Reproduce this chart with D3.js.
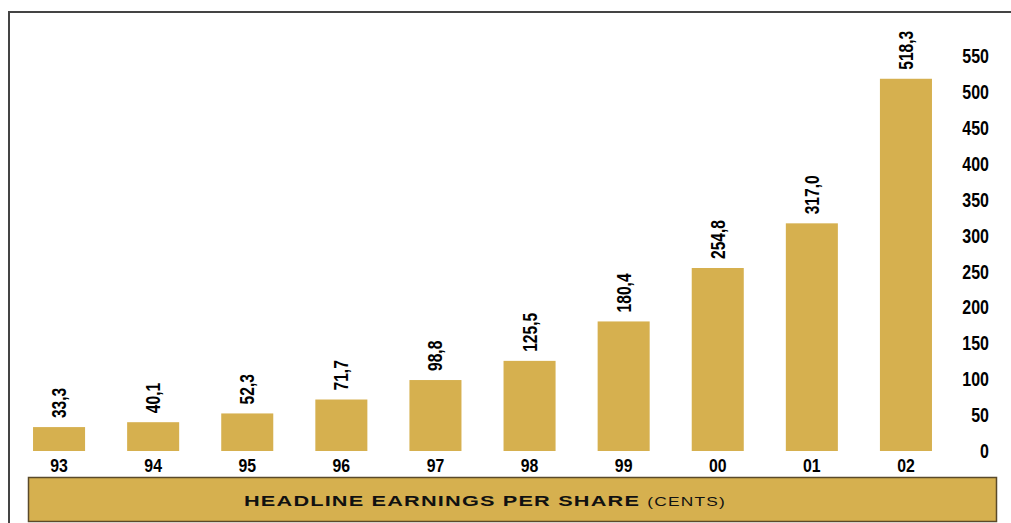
<!DOCTYPE html>
<html>
<head>
<meta charset="utf-8">
<script src="https://cdn.jsdelivr.net/npm/d3@7"></script>
<style>
  body { margin: 0; background: #fff; }
  .narrow { font-family: "Liberation Sans", Arial, sans-serif; font-weight: bold; fill: #000; }
</style>
</head>
<body>
<div class="chart"></div>
<script>
// Chart data
const years = ["93", "94", "95", "96", "97", "98", "99", "00", "01", "02"];
const earnings = [33.3, 40.1, 52.3, 71.7, 98.8, 125.5, 180.4, 254.8, 317.0, 518.3];
const yTicks = [0, 50, 100, 150, 200, 250, 300, 350, 400, 450, 500, 550];

const svgWidth = 1011;
const svgHeight = 523;
const gold = "#d6b04f";

const svg = d3.select(".chart").append("svg")
  .attr("width", svgWidth)
  .attr("height", svgHeight);

// Frame: top and left lines
svg.append("line").attr("x1", 8).attr("x2", svgWidth).attr("y1", 12).attr("y2", 12)
  .attr("stroke", "#444").attr("stroke-width", 2);
svg.append("line").attr("x1", 9).attr("x2", 9).attr("y1", 12).attr("y2", svgHeight)
  .attr("stroke", "#444").attr("stroke-width", 2);

// Scales
const xScale = d3.scaleBand()
  .domain(years)
  .range([12, 953])
  .paddingInner(0.447)
  .paddingOuter(0.2235);

const yScale = d3.scaleLinear().domain([0, 550]).range([451, 56]);

// Bars
svg.selectAll("rect.bar")
  .data(earnings)
  .enter()
  .append("rect")
  .attr("class", "bar")
  .attr("x", (d, i) => xScale(years[i]))
  .attr("width", xScale.bandwidth())
  .attr("y", d => yScale(d))
  .attr("height", d => yScale(0) - yScale(d))
  .attr("fill", gold);

// Value labels, rotated and squeezed to look like a narrow face
svg.selectAll("text.value")
  .data(earnings)
  .enter()
  .append("text")
  .attr("class", "value narrow")
  .attr("transform", (d, i) =>
    "translate(" + (xScale(years[i]) + xScale.bandwidth() / 2) + "," + (yScale(d) - 9) +
    ") rotate(-90) scale(0.78,1)")
  .attr("dy", "0.35em")
  .style("font-size", "20px")
  .text(d => d.toFixed(1).replace(".", ","));

// Bottom category axis
const bottomAxis = d3.axisBottom(xScale).tickSize(0).tickPadding(0);
const gx = svg.append("g")
  .attr("transform", "translate(0,459)")
  .call(bottomAxis);
gx.select(".domain").remove();
gx.selectAll("text")
  .attr("class", "narrow")
  .attr("dy", "0.71em")
  .attr("transform", "scale(0.88,1)")
  .style("font-size", "18px");

// Right value axis
const rightAxis = d3.axisRight(yScale).tickValues(yTicks).tickSize(0).tickPadding(0);
const gy = svg.append("g")
  .attr("transform", "translate(989,0)")
  .call(rightAxis);
gy.select(".domain").remove();
gy.selectAll("text")
  .attr("class", "narrow")
  .attr("text-anchor", "end")
  .attr("x", 0)
  .attr("transform", "scale(0.78,1)")
  .style("font-size", "20.5px");

// Title banner
svg.append("rect")
  .attr("x", 28.5).attr("y", 477.5)
  .attr("width", 968).attr("height", 44)
  .attr("fill", gold)
  .attr("stroke", "#5a4a2a")
  .attr("stroke-width", 1.5);

const title = svg.append("text")
  .attr("transform", "translate(244,506) scale(1.45,1)")
  .style("font-family", "'Liberation Sans', Arial, sans-serif")
  .style("letter-spacing", "0.8px")
  .attr("fill", "#111");
title.append("tspan")
  .style("font-weight", "bold")
  .style("font-size", "15px")
  .text("HEADLINE EARNINGS PER SHARE ");
title.append("tspan")
  .style("font-size", "12px")
  .text("(CENTS)");
</script>
</body>
</html>
